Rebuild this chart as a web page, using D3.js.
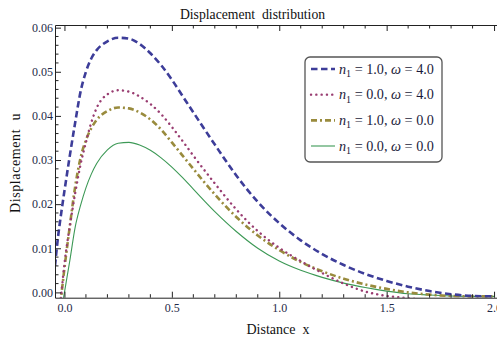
<!DOCTYPE html>
<html lang="en">
<head>
<meta charset="utf-8">
<title>Displacement distribution</title>
<script src="https://cdnjs.cloudflare.com/ajax/libs/d3/7.8.5/d3.min.js"></script>
<style>
  body { margin: 0; background: #fff; }
  svg { display: block; }
  svg text { font-family: "Liberation Serif", "DejaVu Serif", serif; }
</style>
</head>
<body>
<div id="chart"></div>
<script>
// sample positions along the distance axis
const xs = [-0.044, -0.03, -0.015, 0, 0.025, 0.05, 0.075, 0.1, 0.125, 0.15, 0.2, 0.25, 0.3, 0.35, 0.4, 0.45,
            0.5, 0.55, 0.6, 0.7, 0.8, 0.9, 1.0, 1.1, 1.2, 1.3, 1.4, 1.5, 1.6, 1.7, 1.8, 1.9, 2.0];

// displacement u
const uN1w4 = [0.006, 0.0125, 0.0180, 0.0230, 0.0310, 0.0385, 0.0455, 0.0500, 0.0530, 0.0549, 0.0569, 0.0577, 0.0575, 0.0563, 0.0542, 0.0515,
               0.0482, 0.0445, 0.0408, 0.0335, 0.0265, 0.0205, 0.0157, 0.0118, 0.0087, 0.0062, 0.0042, 0.0026, 0.0013, 0.0003, -0.0004, -0.0008, -0.0009];
const uN0w4 = [-0.012, -0.007, -0.0005, 0.0065, 0.0150, 0.0225, 0.0290, 0.0340, 0.0385, 0.0418, 0.0449, 0.0458, 0.0455, 0.0444, 0.0427, 0.0404,
               0.0375, 0.0343, 0.0310, 0.0247, 0.0188, 0.0139, 0.0101, 0.0071, 0.0044, 0.0020, 0.0002, -0.0008, -0.0013, -0.0017, -0.0019, -0.0019, -0.0018];
const uN1w0 = [-0.012, -0.0065, -0.0008, 0.0055, 0.0150, 0.0240, 0.0305, 0.0345, 0.0372, 0.0391, 0.0411, 0.0419, 0.0417, 0.0408, 0.0392, 0.0369,
               0.0340, 0.0310, 0.0280, 0.0222, 0.0171, 0.0129, 0.0096, 0.0069, 0.0048, 0.0031, 0.0018, 0.0008, 0.0000, -0.0005, -0.0008, -0.0009, -0.0009];
const uN0w0 = [-0.018, -0.012, -0.0045, 0.0000, 0.0072, 0.0148, 0.0197, 0.0237, 0.0268, 0.0292, 0.0323, 0.0338, 0.0340, 0.0334, 0.0322, 0.0305,
               0.0284, 0.0260, 0.0234, 0.0183, 0.0138, 0.0100, 0.0071, 0.0050, 0.0034, 0.0021, 0.0011, 0.0003, -0.0003, -0.0006, -0.0008, -0.0009, -0.0009];

const seriesNames = ["1.0|4.0", "0.0|4.0", "1.0|0.0", "0.0|0.0"];
const xTicks = [0, 0.5, 1.0, 1.5, 2.0];
const yTicks = [0, 0.01, 0.02, 0.03, 0.04, 0.05, 0.06];

const width = 497, height = 341;
const mLeft = 55, mRight = 503.5, mTop = 25, mBottom = 297.7;
const serif = "'Liberation Serif', 'Times New Roman', serif";

const svg = d3.select("#chart").append("svg")
    .attr("width", width).attr("height", height);

const x = d3.scaleLinear().domain([-0.044, 2.044]).range([mLeft, mRight]);
const y = d3.scaleLinear().domain([-0.0012, 0.0606]).range([mBottom, mTop]);

const styles = [
  { color: "#3d3d99", w: 2.6, dash: "6.5,3.5", cap: "butt" },
  { color: "#993d71", w: 2.4, dash: "0.1,5.2", cap: "round" },
  { color: "#998b3d", w: 2.6, dash: "6,3,2,3", cap: "butt" },
  { color: "#3d9956", w: 1.1, dash: null, cap: "butt" }
];

svg.append("clipPath").attr("id", "plotclip")
  .append("rect").attr("x", mLeft).attr("y", mTop).attr("width", mRight - mLeft).attr("height", mBottom - mTop);

const line = d3.line()
    .x(d => x(d[0])).y(d => y(d[1]))
    .curve(d3.curveMonotoneX);

const allSeries = [uN1w4, uN0w4, uN1w0, uN0w0];
const curves = svg.append("g").attr("clip-path", "url(#plotclip)");
allSeries.slice().reverse().forEach((vals, ri) => {
  const i = allSeries.length - 1 - ri;
  const s = styles[i];
  curves.append("path")
    .datum(xs.map((xv, k) => [xv, vals[k]]))
    .attr("d", line)
    .attr("fill", "none")
    .attr("stroke", s.color)
    .attr("stroke-width", s.w)
    .attr("stroke-dasharray", s.dash)
    .attr("stroke-linecap", s.cap);
});

// frame with inward ticks
const tickColor = "#222";
const labelColor = "#1f2a48";

const xMinor = d3.range(0, 2.05, 0.1).filter(v => Math.abs(v * 2 - Math.round(v * 2)) > 1e-6);
const yMinor = d3.range(0, 0.0605, 0.002).filter(v => Math.abs(v * 100 - Math.round(v * 100)) > 1e-6);

const bottomAxis = svg.append("g").attr("transform", `translate(0,${mBottom})`)
  .call(d3.axisBottom(x).tickValues(xTicks).tickSize(-6).tickSizeOuter(0).tickPadding(6)
    .tickFormat(d3.format(".1f")));
bottomAxis.append("g").selectAll("line").data(xMinor).join("line")
  .attr("x1", d => x(d)).attr("x2", d => x(d)).attr("y1", 0).attr("y2", -3.5).attr("stroke", tickColor);

const topAxis = svg.append("g").attr("transform", `translate(0,${mTop})`)
  .call(d3.axisTop(x).tickValues(xTicks).tickSize(-6).tickSizeOuter(0).tickFormat(""));
topAxis.append("g").selectAll("line").data(xMinor).join("line")
  .attr("x1", d => x(d)).attr("x2", d => x(d)).attr("y1", 0).attr("y2", 3.5).attr("stroke", tickColor);

const leftAxis = svg.append("g").attr("transform", `translate(${mLeft},0)`)
  .call(d3.axisLeft(y).tickValues(yTicks).tickSize(-6).tickSizeOuter(0).tickPadding(2)
    .tickFormat(d3.format(".2f")));
leftAxis.append("g").selectAll("line").data(yMinor).join("line")
  .attr("y1", d => y(d)).attr("y2", d => y(d)).attr("x1", 0).attr("x2", 3.5).attr("stroke", tickColor);

svg.selectAll("g").attr("font-family", serif);
svg.selectAll(".domain").attr("stroke", tickColor).attr("stroke-width", 1);
svg.selectAll(".tick line").attr("stroke", tickColor);
svg.selectAll(".tick text")
  .attr("fill", labelColor)
  .attr("font-family", serif)
  .attr("font-size", 12);

// titles
svg.append("text").attr("x", 252.5).attr("y", 19).attr("text-anchor", "middle")
  .attr("font-family", serif).attr("font-size", 13.7).attr("fill", "#111")
  .text("Displacement\u00a0\u00a0distribution");
svg.append("text").attr("x", 278).attr("y", 334).attr("text-anchor", "middle")
  .attr("font-family", serif).attr("font-size", 14).attr("fill", "#111")
  .text("Distance\u00a0\u00a0x");
svg.append("text").attr("transform", "translate(20,163) rotate(-90)").attr("text-anchor", "middle")
  .attr("font-family", serif).attr("font-size", 14).attr("letter-spacing", 0.6).attr("fill", "#111")
  .text("Displacement\u00a0\u00a0u");

// legend
const legend = svg.append("g").attr("font-family", serif);
legend.append("rect").attr("x", 305).attr("y", 57).attr("width", 137).attr("height", 105)
  .attr("rx", 5).attr("fill", "#fff").attr("stroke", "#555").attr("stroke-width", 1.3);

const rowY = d3.scalePoint().domain(seriesNames).range([69, 146]);
seriesNames.forEach((name, i) => {
  const [n1, w] = name.split("|");
  const s = styles[i];
  const yy = rowY(name);
  legend.append("line").attr("x1", 311).attr("x2", 335).attr("y1", yy).attr("y2", yy)
    .attr("stroke", s.color).attr("stroke-width", s.w)
    .attr("stroke-dasharray", s.dash).attr("stroke-linecap", s.cap);
  const t = legend.append("text").attr("x", 339).attr("y", yy + 4.5)
    .attr("font-family", serif).attr("font-size", 14.2).attr("fill", "#1a1a3a");
  t.append("tspan").attr("font-style", "italic").text("n");
  t.append("tspan").attr("dy", 3.5).attr("font-size", 10).text("1");
  t.append("tspan").attr("dy", -3.5).text(` = ${n1}, `);
  t.append("tspan").attr("font-style", "italic").text("\u03c9");
  t.append("tspan").text(` = ${w}`);
});
</script>
</body>
</html>
